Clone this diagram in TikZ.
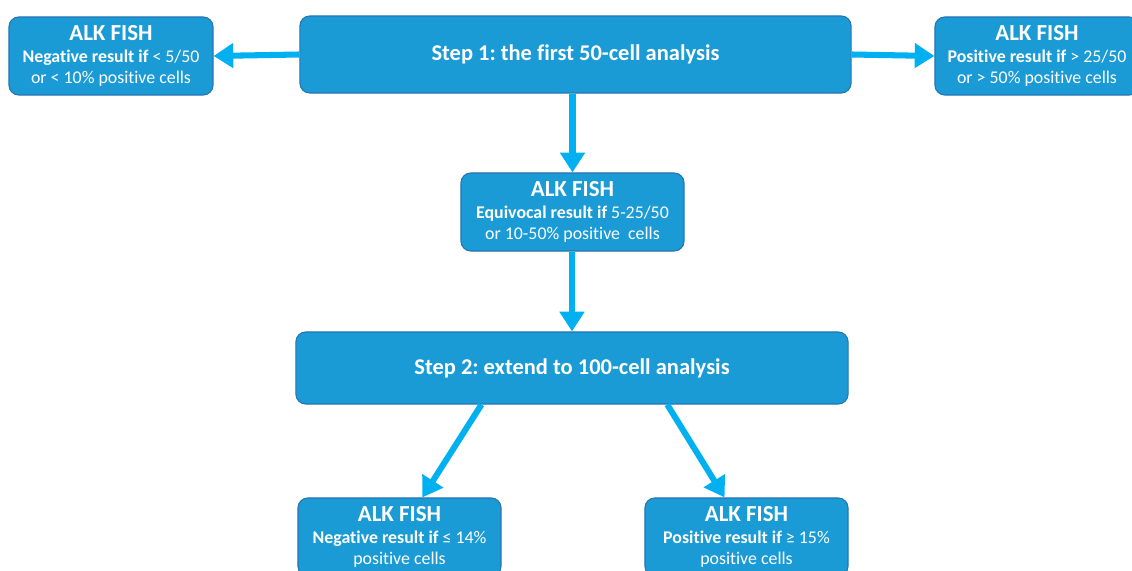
\documentclass[tikz,border=0pt]{standalone}
\usepackage{fontspec}
\setmainfont{Carlito}[Ligatures=NoCommon]
\usetikzlibrary{arrows.meta}
\frenchspacing

\definecolor{boxblue}{RGB}{27,155,214}
\definecolor{boxline}{RGB}{38,118,178}
\definecolor{arrowcyan}{RGB}{0,176,240}

\tikzset{
  fishbox/.style={draw=boxline, line width=0.8pt, fill=boxblue, rounded corners=7pt,
    text=white, align=center, inner sep=0pt, minimum width=5.1cm, minimum height=1.95cm,
    font=\fontsize{12.7}{15}\selectfont},
  stepbox/.style={fishbox, minimum width=13.8cm, minimum height=1.9cm,
    font=\bfseries\fontsize{16}{19}\selectfont},
  flow/.style={draw=arrowcyan, line width=4.3pt, -{Triangle[length=14pt, width=17pt]}}
}
\newcommand{\fishtitle}{{\fontsize{16.3}{19}\selectfont\bfseries ALK FISH}}

\begin{document}
\begin{tikzpicture}[x=0.025cm, y=-0.025cm]
          \useasboundingbox (0,0) rectangle (1132,571);

          % first step and its three outcomes
          \node (step1) at (575.5, 54.5) [stepbox, minimum width=13.775cm, minimum height=1.925cm] {Step 1: the first 50-cell analysis};
          \node (negA) at (111, 56) [fishbox] {\fishtitle\\ \textbf{Negative result if} < 5/50\\ or < 10\% positive cells};
          \node (posA) at (1037, 56) [fishbox] {\fishtitle\\ \textbf{Positive result if} > 25/50\\ or > 50\% positive cells};
          \node (equiv) at (572.5, 212) [fishbox, minimum width=5.575cm] {\fishtitle\\ \textbf{Equivocal result if} 5-25/50\\ or 10-50\% positive\ \ cells};

          % second step
          \node (step2) at (572, 368) [stepbox, minimum height=1.8cm] {Step 2: extend to 100-cell analysis};
          \node (negB) at (399.5, 537) [fishbox, minimum width=5.075cm] {\fishtitle\\ \textbf{Negative result if} ≤ 14\%\\ positive cells};
          \node (posB) at (746.5, 537) [fishbox, minimum width=5.075cm] {\fishtitle\\ \textbf{Positive result if} ≥ 15\%\\ positive cells};

          \draw [flow] (step1.west) -- (negA.east);
          \draw [flow] (step1.east) -- (posA.west);
          \draw [flow] (step1.south -| equiv.north) -- (equiv.north);
          \draw [flow] (equiv.south -| step2.north) -- (step2.north);
          \draw [flow] (step2.202) -- (negB.60);
          \draw [flow] (step2.339) -- (posB.119);
        \end{tikzpicture}
\end{document}
